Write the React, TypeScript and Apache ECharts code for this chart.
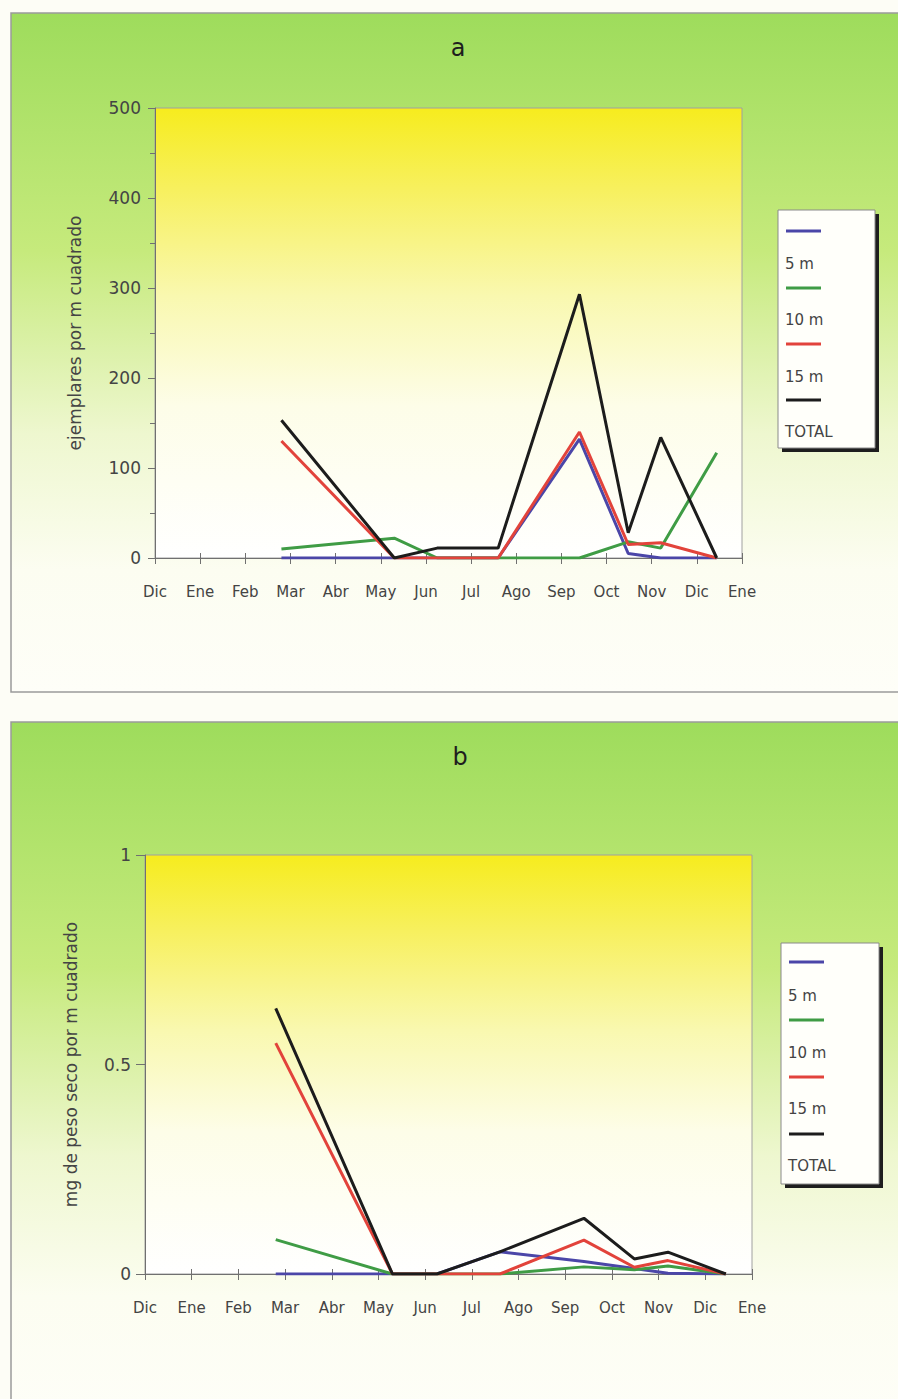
import React, { useEffect, useRef } from "react";
import * as echarts from "echarts";

const MONTHS = ["Dic", "Ene", "Feb", "Mar", "Abr", "May", "Jun", "Jul", "Ago", "Sep", "Oct", "Nov", "Dic", "Ene"];
// sampling dates, in months counted from the first "Dic" tick
const SAMPLE_DATES = [2.8, 5.3, 6.25, 7.6, 9.4, 10.48, 11.2, 12.44];

const SERIES_NAMES = ["5 m", "10 m", "15 m", "TOTAL"];
const COLORS = ["#4b46a8", "#3f9c45", "#e2433b", "#1c1c1c"];

// panel a: ejemplares por m cuadrado
const A_5M = [0, 0, 0, 0, 132, 5, 0, 0];
const A_10M = [10, 22, 0, 0, 0, 18, 11, 117];
const A_15M = [130, 0, 0, 0, 140, 15, 17, 0];
const A_TOTAL = [153, 0, 11, 11, 293, 28, 134, 0];

// panel b: mg de peso seco por m cuadrado
const B_5M = [0, 0, 0, 0.053, 0.03, 0.013, 0.002, 0];
const B_10M = [0.082, 0, 0, 0, 0.017, 0.01, 0.019, 0];
const B_15M = [0.551, 0, 0, 0, 0.081, 0.016, 0.032, 0];
const B_TOTAL = [0.634, 0, 0, 0.053, 0.133, 0.036, 0.052, 0];

const A_TICKS = [0, 100, 200, 300, 400, 500];
const B_TICKS = [0, 0.5, 1];

const FONT = "'DejaVu Sans', sans-serif";
const TXT = "#444444";

function pairs(vals: number[]) {
  return SAMPLE_DATES.map((d, i) => [d, vals[i]]);
}

export default function App() {
  const ref = useRef<HTMLDivElement>(null);
  useEffect(() => {
    if (!ref.current) return;
    const chart = echarts.init(ref.current, null, { renderer: "svg" });

    const panelGrad = () =>
      new echarts.graphic.LinearGradient(0, 0, 0, 1, [
        { offset: 0, color: "#9edc5c" },
        { offset: 0.35, color: "#c6ea7c" },
        { offset: 0.62, color: "#eef7cf" },
        { offset: 0.82, color: "#fcfdf1" },
        { offset: 1, color: "#fefef8" },
      ]);
    const plotGrad = () =>
      new echarts.graphic.LinearGradient(0, 0, 0, 1, [
        { offset: 0, color: "#f6ec1e" },
        { offset: 0.18, color: "#f7f05e" },
        { offset: 0.42, color: "#f9f8b0" },
        { offset: 0.66, color: "#fdfde8" },
        { offset: 1, color: "#ffffff" },
      ]);

    const grids = [
      { left: 155, top: 108, width: 587, height: 450 },
      { left: 145, top: 855, width: 607, height: 419 },
    ];

    const legendGroup = (x: number, y: number, w: number, h: number, lineYs: number[], textYs: number[]) => {
      const children: any[] = [
        { type: "rect", shape: { x: x + 4, y: y + 4, width: w, height: h }, style: { fill: "#1e1e1e" }, z: 50 },
        { type: "rect", shape: { x, y, width: w, height: h }, style: { fill: "#fffffa", stroke: "#8a8a8a", lineWidth: 1 }, z: 51 },
      ];
      SERIES_NAMES.forEach((name, i) => {
        children.push({
          type: "line",
          shape: { x1: x + 8, y1: lineYs[i], x2: x + 43, y2: lineYs[i] },
          style: { stroke: COLORS[i], lineWidth: 3 },
          z: 52,
        });
        children.push({
          type: "text",
          x: x + 7,
          y: textYs[i],
          style: { text: name, fill: TXT, font: `15px ${FONT}`, textVerticalAlign: "middle" },
          z: 52,
        });
      });
      return children;
    };

    const axisCommon = {
      axisLine: { show: true, lineStyle: { color: "#707070", width: 1 } },
      splitLine: { show: false },
    };

    const xAxis: any[] = [];
    const yAxis: any[] = [];
    [0, 1].forEach((g) => {
      xAxis.push({
        type: "value",
        gridIndex: g,
        min: 0,
        max: 13,
        interval: 1,
        ...axisCommon,
        axisTick: { show: true, length: 6, lineStyle: { color: "#707070" } },
        axisLabel: {
          formatter: (v: number) => MONTHS[Math.round(v)] ?? "",
          color: TXT,
          fontSize: 15,
          fontFamily: FONT,
          margin: 26,
        },
      });
      xAxis.push({
        type: "value",
        gridIndex: g,
        min: 0,
        max: 13,
        interval: 1,
        position: "bottom",
        ...axisCommon,
        axisTick: { show: true, inside: true, length: 5, lineStyle: { color: "#707070" } },
        axisLabel: { show: false },
      });
    });
    yAxis.push({
      type: "value",
      gridIndex: 0,
      min: 0,
      max: 500,
      interval: 100,
      ...axisCommon,
      axisTick: { show: true, length: 7, lineStyle: { color: "#707070" } },
      minorTick: { show: true, splitNumber: 2, length: 5, lineStyle: { color: "#707070" } },
      axisLabel: {
        formatter: (v: number) => (A_TICKS.includes(v) ? String(v) : ""),
        color: TXT,
        fontSize: 17,
        fontFamily: FONT,
        margin: 14,
      },
      name: "ejemplares por m cuadrado",
      nameLocation: "middle",
      nameRotate: 90,
      nameGap: 72,
      nameTextStyle: { color: TXT, fontSize: 17, fontFamily: FONT },
    });
    yAxis.push({
      type: "value",
      gridIndex: 1,
      min: 0,
      max: 1,
      interval: 0.5,
      ...axisCommon,
      axisTick: { show: true, length: 9, lineStyle: { color: "#707070" } },
      axisLabel: {
        formatter: (v: number) => (B_TICKS.includes(v) ? String(v) : ""),
        color: TXT,
        fontSize: 17,
        fontFamily: FONT,
        margin: 14,
      },
      name: "mg de peso seco por m cuadrado",
      nameLocation: "middle",
      nameRotate: 90,
      nameGap: 66,
      nameTextStyle: { color: TXT, fontSize: 17, fontFamily: FONT },
    });

    const mk = (name: string, data: number[], i: number, axis: number) => ({
      type: "line",
      name,
      xAxisIndex: axis * 2,
      yAxisIndex: axis,
      data: pairs(data),
      showSymbol: false,
      symbol: "none",
      lineStyle: { color: COLORS[i], width: 3 },
      itemStyle: { color: COLORS[i] },
      z: 3 + i,
    });

    chart.setOption({
      animation: false,
      backgroundColor: "#fdfdf6",
      grid: grids.map((g) => ({ ...g, show: true, borderColor: "#a0a0a0", borderWidth: 1, backgroundColor: "transparent" })),
      xAxis,
      yAxis,
      graphic: [
        { type: "rect", shape: { x: 11, y: 13, width: 900, height: 679 }, style: { fill: panelGrad(), stroke: "#9a9a9a", lineWidth: 1.5 }, z: -10 },
        { type: "rect", shape: { x: 11, y: 722, width: 900, height: 700 }, style: { fill: panelGrad(), stroke: "#9a9a9a", lineWidth: 1.5 }, z: -10 },
        { type: "rect", shape: { x: 155, y: 108, width: 587, height: 450 }, style: { fill: plotGrad() }, z: -5 },
        { type: "rect", shape: { x: 145, y: 855, width: 607, height: 419 }, style: { fill: plotGrad() }, z: -5 },
        { type: "text", x: 458, y: 48, style: { text: "a", fill: "#1e1e1e", font: `24px ${FONT}`, textAlign: "center", textVerticalAlign: "middle" }, z: 10 },
        { type: "text", x: 460, y: 757, style: { text: "b", fill: "#1e1e1e", font: `24px ${FONT}`, textAlign: "center", textVerticalAlign: "middle" }, z: 10 },
        { type: "group", children: legendGroup(778, 210, 97, 238, [231, 288, 344, 400], [264, 320, 377, 432]) },
        { type: "group", children: legendGroup(781, 943, 98, 241, [962, 1020, 1077, 1134], [996, 1053, 1109, 1166]) },
      ],
      series: [
        mk("5 m", A_5M, 0, 0),
        mk("10 m", A_10M, 1, 0),
        mk("15 m", A_15M, 2, 0),
        mk("TOTAL", A_TOTAL, 3, 0),
        mk("5 m", B_5M, 0, 1),
        mk("10 m", B_10M, 1, 1),
        mk("15 m", B_15M, 2, 1),
        mk("TOTAL", B_TOTAL, 3, 1),
      ],
    });
    return () => chart.dispose();
  }, []);
  return <div ref={ref} style={{ position: "absolute", left: 0, top: 0, width: 898, height: 1399 }} />;
}
